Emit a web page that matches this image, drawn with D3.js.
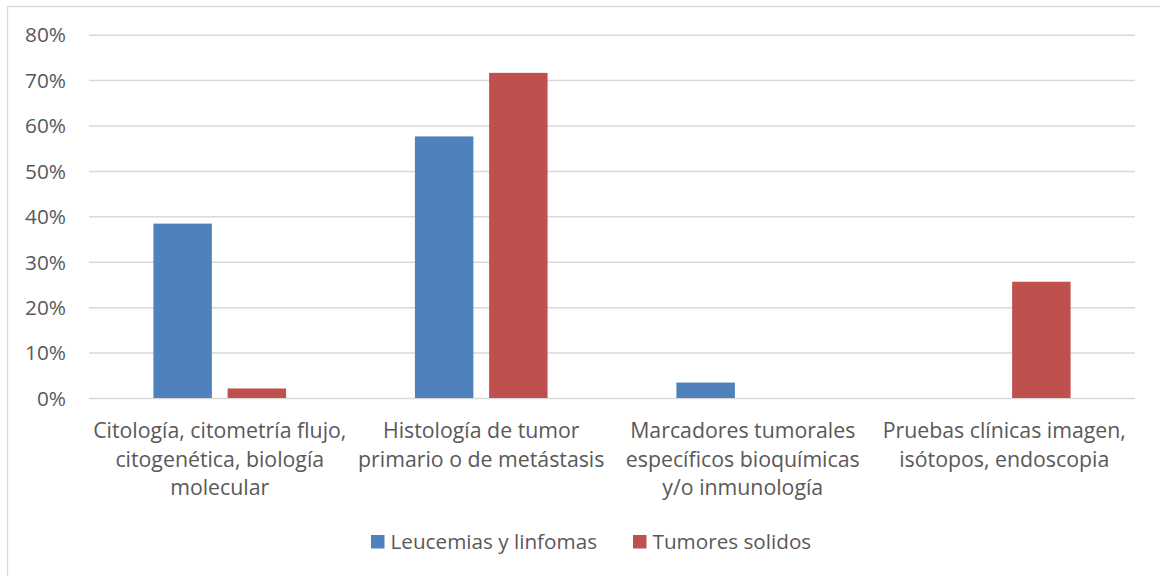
<!DOCTYPE html>
<html>
<head>
<meta charset="utf-8">
<script src="https://cdn.jsdelivr.net/npm/d3@7"></script>
<style>
  body { margin: 0; background: #fff; }
  svg text { font-family: "Open Sans", sans-serif; fill: #595959; }
</style>
</head>
<body>
<div id="chart"></div>
<script>
// Data
const categories = [
    ["Citología, citometría flujo,", "citogenética, biología", "molecular"],
    ["Histología de tumor", "primario o de metástasis"],
    ["Marcadores tumorales", "específicos bioquímicas", "y/o inmunología"],
    ["Pruebas clínicas imagen,", "isótopos, endoscopia"]
];
const seriesNames = ["Leucemias y linfomas", "Tumores solidos"];
const seriesColors = ["#4f81bd", "#c0504d"];
const leucemias = [0.384, 0.576, 0.034, 0];
const tumores = [0.021, 0.716, 0, 0.256];
const yTicks = [0, 0.1, 0.2, 0.3, 0.4, 0.5, 0.6, 0.7, 0.8];

const width = 1160;
const height = 576;

const svg = d3.select('#chart')
    .append('svg')
    .attr('width', width)
    .attr('height', height);

// Chart border
svg.append('rect')
    .attr('x', 7.5)
    .attr('y', 6.5)
    .attr('width', 1170)
    .attr('height', 600)
    .attr('fill', 'none')
    .attr('stroke', '#d9d9d9')
    .attr('stroke-width', 1.3);

const plot = { left: 89, right: 1135, top: 34.7, bottom: 398 };

const x0 = d3.scaleBand()
    .domain(d3.range(categories.length))
    .range([plot.left, plot.right])
    .padding(0);

const x1 = d3.scaleBand()
    .domain(d3.range(seriesNames.length))
    .range([0, x0.bandwidth()])
    .paddingInner(0.212)
    .paddingOuter(0.868);

const y = d3.scaleLinear()
    .domain([0, 0.8])
    .range([plot.bottom, plot.top]);

// Gridlines + y labels
const yAxis = d3.axisLeft(y)
    .tickValues(yTicks)
    .tickFormat(d3.format('.0%'))
    .tickSize(-(plot.right - plot.left))
    .tickPadding(23);

const gy = svg.append('g')
    .attr('transform', `translate(${plot.left},0)`)
    .call(yAxis);
gy.select('.domain').remove();
gy.selectAll('.tick line')
    .attr('stroke', '#d9d9d9')
    .attr('stroke-width', 1.5);
gy.selectAll('.tick text')
    .style('font-size', '20.8px')
    .attr('fill', '#595959')
    .attr('dy', '0.35em');

// Bars
const series = [leucemias, tumores];
const groups = svg.append('g')
    .selectAll('g')
    .data(categories)
    .enter().append('g')
    .attr('transform', (d, i) => `translate(${x0(i)},0)`);

groups.selectAll('rect')
    .data((d, i) => series.map((s, k) => ({ k: k, v: s[i] })))
    .enter().append('rect')
    .attr('x', d => x1(d.k))
    .attr('y', d => y(d.v))
    .attr('width', x1.bandwidth())
    .attr('height', d => y(0) - y(d.v))
    .attr('fill', d => seriesColors[d.k]);

// Category labels
const labels = svg.append('g')
    .selectAll('text')
    .data(categories)
    .enter().append('text')
    .attr('text-anchor', 'middle')
    .attr('x', (d, i) => x0(i) + x0.bandwidth() / 2)
    .attr('y', 438)
    .style('font-size', '21.3px');

labels.selectAll('tspan')
    .data(d => d)
    .enter().append('tspan')
    .attr('x', function() { return d3.select(this.parentNode).attr('x'); })
    .attr('dy', (d, i) => i === 0 ? 0 : 28.7)
    .text(d => d);

// Legend
const legendX = [371, 633];
const legend = svg.append('g')
    .selectAll('g')
    .data(seriesNames)
    .enter().append('g')
    .attr('transform', (d, i) => `translate(${legendX[i]},535)`);

legend.append('rect')
    .attr('width', 13.5)
    .attr('height', 13.5)
    .attr('fill', (d, i) => seriesColors[i]);

legend.append('text')
    .attr('x', 19.5)
    .attr('y', 14)
    .style('font-size', '20.7px')
    .text(d => d);
</script>
</body>
</html>
